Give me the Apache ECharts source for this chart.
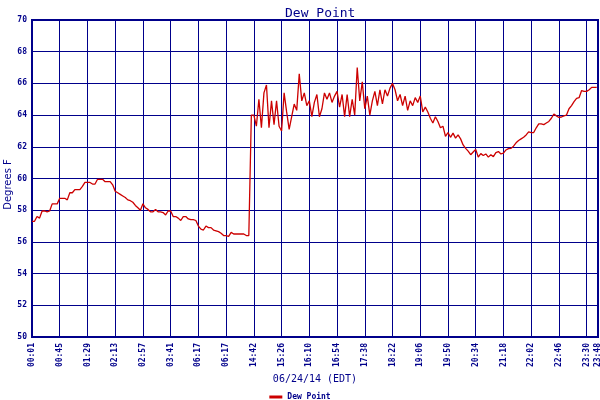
<!DOCTYPE html>
<html><head><meta charset="utf-8">
<script src="https://cdn.jsdelivr.net/npm/echarts@6/dist/echarts.min.js"></script>
<style>html,body{margin:0;padding:0;background:#fff}#c{width:600px;height:400px}</style>
</head><body><div id="c"></div>
<script>
// x tick labels (one every 44 samples; last at the end of the record)
const tickLabels = ['00:01','00:45','01:29','02:13','02:57','03:41','06:17','06:17','14:42','15:26','16:10',
  '16:54','17:38','18:22','19:06','19:50','20:34','21:18','22:02','22:46','23:30','23:48'];
const tickEvery = 44;
const xMax = 898;
const sampleStep = 4;
const yMin = 50, yMax = 70, yStep = 2;

// Dew point (deg F), read every 4 samples
const dewPoint = [
  57.3, 57.3, 57.6, 57.5, 57.95, 57.95, 57.9, 57.95, 58.4, 58.4,
  58.4, 58.75, 58.75, 58.75, 58.65, 59.1, 59.1, 59.3, 59.3, 59.3,
  59.5, 59.75, 59.75, 59.75, 59.65, 59.65, 59.95, 59.95, 59.95, 59.8,
  59.8, 59.8, 59.6, 59.2, 59.1, 59.0, 58.9, 58.8, 58.65, 58.6,
  58.5, 58.3, 58.15, 58.0, 58.4, 58.15, 58.05, 57.9, 57.9, 58.05,
  57.9, 57.9, 57.85, 57.7, 57.95, 57.95, 57.6, 57.6, 57.5, 57.35,
  57.6, 57.6, 57.45, 57.4, 57.4, 57.35, 57.0, 56.8, 56.75, 57.0,
  56.9, 56.9, 56.75, 56.7, 56.65, 56.55, 56.4, 56.4, 56.35, 56.6,
  56.5, 56.5, 56.5, 56.5, 56.5, 56.4, 56.4,
  64.0, 64.0, 63.3, 65.0, 63.2, 65.4, 65.9, 63.2, 64.9, 63.4,
  64.9, 63.3, 63.0, 65.4, 64.2, 63.1, 63.9, 64.7, 64.3, 66.6,
  64.9, 65.4, 64.6, 64.9, 63.9, 64.8, 65.3, 63.9, 64.4, 65.4,
  65.0, 65.4, 64.8, 65.2, 65.5, 64.5, 65.3, 63.9,
  65.3, 63.9, 65.0, 64.0, 67.0, 64.9, 66.1, 64.4, 65.2, 64.0,
  64.9, 65.5, 64.6, 65.6, 64.7, 65.6, 65.2, 65.7, 66.0, 65.6,
  64.9, 65.3, 64.6, 65.2, 64.3, 64.9, 64.6, 65.1, 64.8, 65.2,
  64.2, 64.5, 64.2, 63.8, 63.5, 63.9, 63.6, 63.2,
  63.3, 62.66, 62.9, 62.6, 62.86, 62.55, 62.75, 62.5, 62.12, 61.9,
  61.73, 61.5, 61.67, 61.84, 61.35, 61.57, 61.45, 61.55, 61.35, 61.5,
  61.38, 61.63, 61.7, 61.55, 61.6, 61.8, 61.88, 61.9, 62.04,
  62.25, 62.4, 62.5, 62.6, 62.75, 62.94, 62.9, 62.9, 63.2, 63.44,
  63.45, 63.4, 63.5, 63.6, 63.8, 64.06, 63.95, 63.85, 63.88, 63.95,
  64.0, 64.4, 64.6, 64.85, 65.06, 65.1, 65.55, 65.5, 65.5, 65.6,
  65.75, 65.75, 65.75
];

const navy = '#00008B';
const red = '#CC0000';
const mono = 'DejaVu Sans Mono';
const seriesData = dewPoint.map((v, i) => [i * sampleStep, v]);

const chart = echarts.init(document.getElementById('c'), null, {renderer: 'canvas'});
chart.setOption({
  animation: false,
  backgroundColor: '#fff',
  title: {
    text: 'Dew Point', left: 280, top: 2,
    textStyle: {fontFamily: mono, fontSize: 13, fontWeight: 'normal', color: navy}
  },
  grid: {left: 32, right: 2, top: 20, bottom: 63, show: true, borderColor: navy, borderWidth: 2,
    backgroundColor: '#fff', containLabel: false, outerBoundsMode: 'none'},
  legend: {
    data: ['Dew Point'], top: 388, left: 'center', icon: 'rect', itemWidth: 13, itemHeight: 3, itemGap: 4,
    textStyle: {fontFamily: mono, fontSize: 8, fontWeight: 'bold', color: navy}
  },
  xAxis: {
    type: 'value', min: 0, max: xMax, interval: tickEvery,
    name: '06/24/14 (EDT)', nameLocation: 'middle', nameGap: 37, nameMoveOverlap: false,
    nameTextStyle: {fontFamily: mono, fontSize: 10, color: navy},
    axisLine: {show: true, lineStyle: {color: navy, width: 2}},
    axisTick: {show: false},
    axisLabel: {
      rotate: 90, margin: 6, fontFamily: mono, fontSize: 8, fontWeight: 'bold', color: navy,
      showMinLabel: true, showMaxLabel: true, hideOverlap: false,
      formatter: (v) => v >= xMax ? tickLabels[tickLabels.length - 1] : tickLabels[Math.round(v / tickEvery)]
    },
    splitLine: {show: true, lineStyle: {color: navy, width: 1}}
  },
  yAxis: {
    type: 'value', min: yMin, max: yMax, interval: yStep,
    name: 'Degrees F', nameLocation: 'middle', nameGap: 19, nameRotate: 90, nameMoveOverlap: false,
    nameTextStyle: {fontFamily: 'DejaVu Sans', fontSize: 10, color: navy, padding: [0, 0, 0, -12]},
    axisLine: {show: true, lineStyle: {color: navy, width: 2}},
    axisTick: {show: false},
    axisLabel: {margin: 5, fontFamily: mono, fontSize: 8, fontWeight: 'bold', color: navy},
    splitLine: {show: true, lineStyle: {color: navy, width: 1}}
  },
  series: [{
    name: 'Dew Point', type: 'line', data: seriesData, symbol: 'none', showSymbol: false,
    lineStyle: {color: red, width: 1.3}, itemStyle: {color: red}
  }]
});
</script></body></html>
